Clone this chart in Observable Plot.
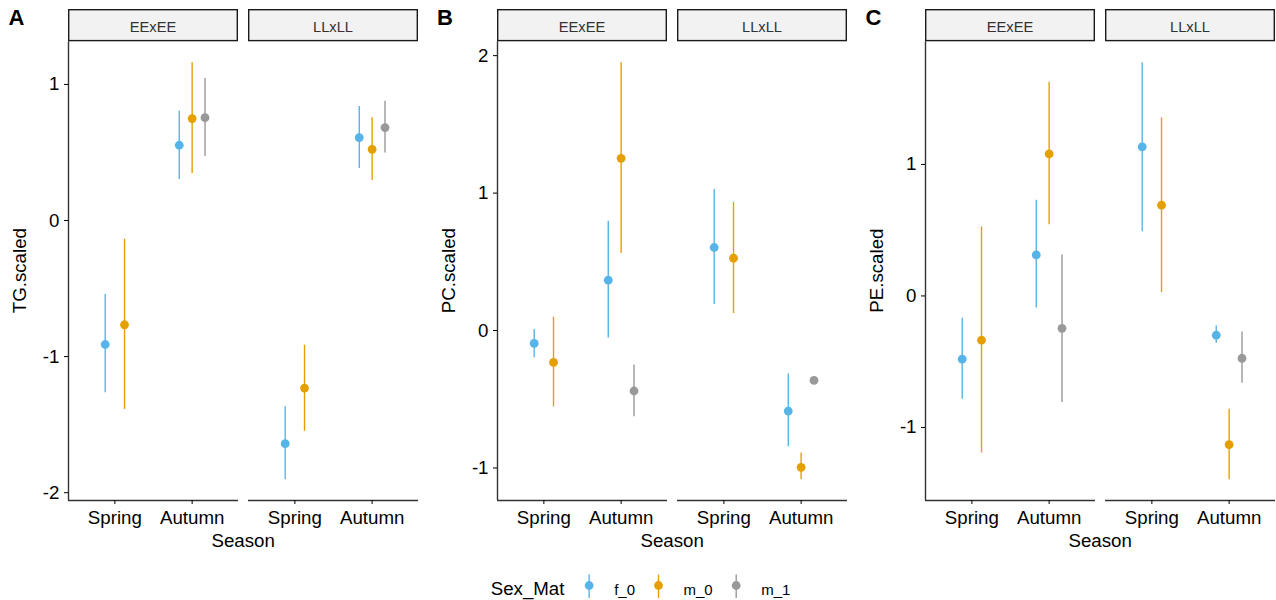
<!DOCTYPE html>
<html><head><meta charset="utf-8">
<script src="https://cdn.jsdelivr.net/npm/d3@7"></script>
<script src="https://cdn.jsdelivr.net/npm/@observablehq/plot@0.6"></script>
<style>
body{margin:0;background:#fff;font-family:"Liberation Sans",Arial,sans-serif;}
#wrap{position:relative;width:1276px;height:600px;overflow:hidden;background:#fff;}
.panel{position:absolute;top:0;width:428.5px;}
.panel svg{max-width:none !important;}
.tag{position:absolute;font-weight:bold;font-size:22px;top:5px;color:#000;}
#legend{position:absolute;top:560px;left:0;}
</style></head><body><div id="wrap"></div>
<script>
// ---- data ----
const seasons = ["Spring", "Autumn"];
const populations = ["EExEE", "LLxLL"];
const groups = ["f_0", "m_0", "m_1"];
const groupColors = ["#56B4E9", "#E69F00", "#999999"];

const rowPop    = ["EExEE","EExEE","EExEE","EExEE","EExEE","LLxLL","LLxLL","LLxLL","LLxLL","LLxLL"];
const rowSeason = ["Spring","Spring","Autumn","Autumn","Autumn","Spring","Spring","Autumn","Autumn","Autumn"];
const rowGroup  = ["f_0","m_0","f_0","m_0","m_1","f_0","m_0","f_0","m_0","m_1"];

const tgEst  = [-0.911,-0.766, 0.553, 0.749, 0.756,-1.640,-1.231, 0.609, 0.523, 0.683];
const tgLow  = [-1.266,-1.388, 0.301, 0.345, 0.470,-1.904,-1.549, 0.382, 0.294, 0.496];
const tgHigh = [-0.543,-0.137, 0.802, 1.160, 1.043,-1.369,-0.916, 0.837, 0.756, 0.876];
const tgTicks = [-2, -1, 0, 1];

const pcEst  = [-0.094,-0.232, 0.366, 1.253,-0.440, 0.604, 0.526,-0.586,-0.995,-0.363];
const pcLow  = [-0.198,-0.555,-0.055, 0.560,-0.627, 0.190, 0.124,-0.845,-1.085,-0.375];
const pcHigh = [ 0.008, 0.097, 0.795, 1.949,-0.251, 1.026, 0.933,-0.317,-0.891,-0.351];
const pcTicks = [-1, 0, 1, 2];

const peEst  = [-0.481,-0.337, 0.312, 1.080,-0.246, 1.133, 0.690,-0.299,-1.131,-0.474];
const peLow  = [-0.786,-1.194,-0.091, 0.542,-0.811, 0.489, 0.025,-0.359,-1.397,-0.664];
const peHigh = [-0.170, 0.525, 0.728, 1.625, 0.312, 1.774, 1.354,-0.228,-0.862,-0.274];
const peTicks = [-1, 0, 1];

const panels = [
  {tag: "A", ylabel: "TG.scaled", est: tgEst, low: tgLow, high: tgHigh, ticks: tgTicks},
  {tag: "B", ylabel: "PC.scaled", est: pcEst, low: pcLow, high: pcHigh, ticks: pcTicks},
  {tag: "C", ylabel: "PE.scaled", est: peEst, low: peLow, high: peHigh, ticks: peTicks}
];

// ---- layout ----
const FONT = '"Liberation Sans", Arial, sans-serif';
const W = 428.5, H = 560, ML = 67.7, MR = 9.8, MT = 41.3, MB = 60;
const wrap = document.getElementById("wrap");

panels.forEach((p, pi) => {
  const rows = rowPop.map((pop, i) => ({pop, season: rowSeason[i], group: rowGroup[i], est: p.est[i], low: p.low[i], high: p.high[i]}));
  // dodge (width 0.5) among groups present at each population/season
  rows.forEach(r => {
    const same = rows.filter(q => q.pop === r.pop && q.season === r.season);
    const n = same.length, k = same.indexOf(r);
    r.xpos = seasons.indexOf(r.season) + 1 - 0.25 + 0.5 * (k + 0.5) / n;
  });
  const lo = d3.min(rows, d => d.low), hi = d3.max(rows, d => d.high), pad = (hi - lo) * 0.05;
  const ydom = [lo - pad, hi + pad];

  const plot = Plot.plot({
    width: W, height: H,
    marginLeft: ML, marginRight: MR, marginTop: MT, marginBottom: MB,
    style: {fontFamily: FONT, fontSize: "18.7px", color: "#000", background: "transparent", overflow: "visible", maxWidth: "none"},
    fx: {domain: populations, paddingInner: 0.0554, paddingOuter: 0, axis: null, label: null},
    x: {domain: [0.4, 2.6], axis: null},
    y: {domain: ydom, axis: null},
    color: {domain: groups, range: groupColors},
    marks: [
      Plot.ruleY([ydom[0]], {stroke: "#333", strokeWidth: 1.4}),
      Plot.ruleX([0.4], {fx: () => populations[0], stroke: "#333", strokeWidth: 1.4}),
      Plot.axisY(p.ticks, {tickSize: 4, tickPadding: 5, tickFormat: d => String(d), label: null, fontSize: 18.7}),
      Plot.axisX([1, 2], {tickSize: 4, tickPadding: 6, tickFormat: d => seasons[d - 1], label: null, fontSize: 18.7}),
      Plot.ruleX(rows, {x: "xpos", y1: "low", y2: "high", fx: "pop", stroke: "group", strokeWidth: 1.4}),
      Plot.dot(rows, {x: "xpos", y: "est", fx: "pop", fill: "group", r: 4.4})
    ]
  });
  plot.style.maxWidth = "none";
  plot.setAttribute("width", W);
  plot.setAttribute("height", H);

  const svg = d3.select(plot);
  const fx = plot.scale("fx");
  populations.forEach(pop => {
    const x0 = fx.apply(pop), bw = fx.bandwidth;
    svg.append("rect")
      .attr("x", x0 + 0.7).attr("y", 9.7).attr("width", bw - 1.4).attr("height", MT - 10.4)
      .attr("fill", "#F2F2F2").attr("stroke", "#1a1a1a").attr("stroke-width", 1.4);
    svg.append("text")
      .attr("x", x0 + bw / 2).attr("y", 31.5).attr("text-anchor", "middle")
      .attr("font-size", 14.7).attr("fill", "#333").attr("font-family", FONT).text(pop);
  });
  svg.append("text")
    .attr("x", (ML + W - MR) / 2).attr("y", 546.5).attr("text-anchor", "middle")
    .attr("font-size", 18.7).attr("fill", "#000").attr("font-family", FONT).text("Season");
  svg.append("text")
    .attr("transform", `translate(25.5,${(MT + H - MB) / 2}) rotate(-90)`)
    .attr("text-anchor", "middle")
    .attr("font-size", 18.7).attr("fill", "#000").attr("font-family", FONT).text(p.ylabel);

  const div = document.createElement("div");
  div.className = "panel";
  div.style.left = (pi * W) + "px";
  div.appendChild(plot);
  wrap.appendChild(div);

  const tag = document.createElement("div");
  tag.className = "tag";
  tag.style.left = (pi * W + 8.5) + "px";
  tag.textContent = p.tag;
  wrap.appendChild(tag);
});

// ---- legend ----
const lg = d3.select(wrap).append("svg").attr("id", "legend").attr("width", 1276).attr("height", 40)
  .attr("font-family", FONT);
const title = lg.append("text").attr("x", 490.7).attr("y", 35).attr("font-size", 18.7).attr("fill", "#000").text("Sex_Mat");
let cx = 490.7 + title.node().getComputedTextLength() + 24.7;
groups.forEach((g, i) => {
  lg.append("line").attr("x1", cx).attr("x2", cx).attr("y1", 14.5).attr("y2", 38)
    .attr("stroke", groupColors[i]).attr("stroke-width", 1.4);
  lg.append("circle").attr("cx", cx).attr("cy", 25.5).attr("r", 4.4).attr("fill", groupColors[i]);
  const t = lg.append("text").attr("x", cx + 25).attr("y", 34.5).attr("font-size", 15).attr("fill", "#000").text(g);
  cx = cx + 25 + t.node().getComputedTextLength() + 23.5;
});
</script>
</body></html>
